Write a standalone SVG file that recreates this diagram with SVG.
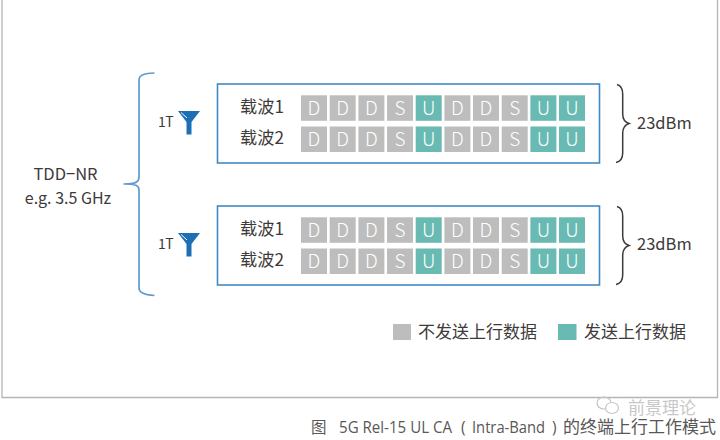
<svg xmlns="http://www.w3.org/2000/svg" xmlns:xlink="http://www.w3.org/1999/xlink" width="720" height="440" viewBox="0 0 720 440">
<style>
text{font-family:"Noto Sans CJK SC","Noto Sans",sans-serif;fill:#3e3a39}
.box{fill:#fff;stroke:#3f8ac6;stroke-width:1.6}
.g{fill:#bdbdbd}.t{fill:#68bab2}
.c{font-size:19px;fill:#fff;text-anchor:middle;font-weight:300}
.lab{font-size:17.2px}
.br{fill:none;stroke:#5f9bd0;stroke-width:1.7}
.cb{fill:none;stroke:#3e3a39;stroke-width:1.5}
.ant{fill:#1c6fb5}
.cap{fill:#595757;font-size:15.5px}
.capz{fill:#595757;font-size:17px}
.capl{fill:#595757;font-size:15.5px;font-family:"Open Sans",sans-serif}
</style>
<defs>
<g id="row">
<rect class="g" x="0" width="26" height="25.5"/><rect class="g" x="28.7" width="26" height="25.5"/><rect class="g" x="57.4" width="26" height="25.5"/><rect class="g" x="86" width="26" height="25.5"/><rect class="t" x="114.7" width="26" height="25.5"/><rect class="g" x="143.4" width="26" height="25.5"/><rect class="g" x="172" width="26" height="25.5"/><rect class="g" x="200.7" width="26" height="25.5"/><rect class="t" x="229.4" width="26" height="25.5"/><rect class="t" x="258" width="26" height="25.5"/>
<text class="c" x="13" y="19.500">D</text><text class="c" x="41.7" y="19.500">D</text><text class="c" x="70.4" y="19.500">D</text><text class="c" x="99" y="19.500">S</text><text class="c" x="127.7" y="19.500">U</text><text class="c" x="156.4" y="19.500">D</text><text class="c" x="185" y="19.500">D</text><text class="c" x="213.7" y="19.500">S</text><text class="c" x="242.4" y="19.500">U</text><text class="c" x="271" y="19.500">U</text>
</g>
<g id="ant"><path class="ant" d="M178 111H200L191.5 122V134.500H186.500V122Z"/><path d="M181 112.500L187 118" stroke="#fff" stroke-width="1" fill="none"/></g>
<path id="rb" class="cb" d="M617 84.500C620.500 85.500 622.700 88 622.700 94V114C622.700 119 624.500 122 629 123.500C624.500 125 622.700 128 622.700 133V153C622.700 159 620.500 161.500 616 162.500"/>
</defs>
<rect width="720" height="440" fill="#fff"/>
<path d="M2 0V397.500H717.500V0" fill="none" stroke="#b5b5b5" stroke-width="1.300"/>
<g id="connectors">
<path class="br" d="M154.500 73C146 73.500 139 74 139 80V177C139 182 136 184 123.500 184C136 184 139 185.500 139 190V288C139 293 146 295 154.500 295.500"/>
<use href="#rb"/>
<use href="#rb" y="122"/>
</g>
<g id="source"><text x="65.500" y="180" text-anchor="middle" font-size="16.500">TDD−NR</text>
<text x="68" y="204" text-anchor="middle" font-size="16">e.g. 3.5 GHz</text></g>
<g id="group1">
<rect class="box" x="217.500" y="84" width="382" height="79"/>
<text x="158" y="127" font-size="14" letter-spacing="-.5">1T</text><use href="#ant"/>
<text class="lab" x="240" y="113">载波1</text><text class="lab" x="240" y="144">载波2</text>
<use href="#row" x="301" y="95.300"/><use href="#row" x="301" y="126.500"/>
<text x="637" y="129" font-size="16.500">23dBm</text>
</g>
<g id="group2">
<rect class="box" x="217.500" y="206" width="382" height="79"/>
<text x="158" y="249" font-size="14" letter-spacing="-.5">1T</text><use href="#ant" y="122"/>
<text class="lab" x="240" y="235">载波1</text><text class="lab" x="240" y="266">载波2</text>
<use href="#row" x="301" y="217.300"/><use href="#row" x="301" y="248.500"/>
<text x="637" y="250" font-size="16.500">23dBm</text>
</g>
<g id="legend">
<rect class="g" x="393" y="324" width="18" height="16"/><text x="418" y="338" font-size="17">不发送上行数据</text>
<rect class="t" x="558" y="324" width="18.500" height="16"/><text x="584" y="338" font-size="17">发送上行数据</text>
</g>
<g id="watermark">
<ellipse cx="604" cy="403" rx="7" ry="6" fill="none" stroke="#c4c4c4" stroke-width="1.200"/><ellipse cx="612" cy="408" rx="6.500" ry="5.500" fill="#fff" stroke="#c4c4c4" stroke-width="1.200"/>
<text x="628" y="413.500" font-size="17" style="fill:#c8c8c8">前景理论</text>
</g>
<g id="caption"><text class="cap" x="311" y="433">图</text>
<text class="capl" x="339" y="433" textLength="113" lengthAdjust="spacingAndGlyphs">5G Rel-15 UL CA</text>
<text class="capl" x="461" y="433">(</text>
<text class="capl" x="472" y="433" textLength="73" lengthAdjust="spacingAndGlyphs">Intra-Band</text>
<text class="capl" x="552" y="433">)</text>
<text class="capz" x="563" y="433">的终端上行工作模式</text></g>
</svg>
